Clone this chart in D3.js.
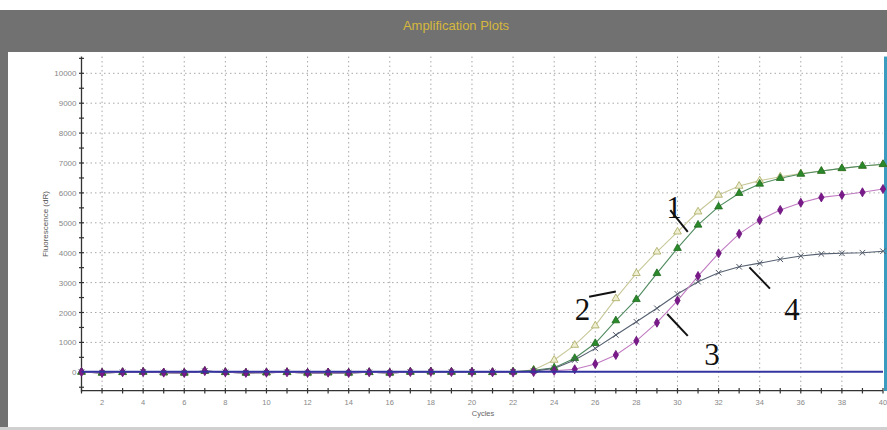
<!DOCTYPE html>
<html><head><meta charset="utf-8">
<script src="https://cdn.jsdelivr.net/npm/d3@7"></script>
<style>html,body{margin:0;padding:0;background:#fff;}svg{display:block;}</style>
</head><body>
<svg id="c" width="887" height="430"></svg>
<script>
const cycles = d3.range(1, 41);
const base = [10,-20,0,10,-10,-20,40,0,-20,-10,0,-20,-10,-20,0,-20,10,20,10,10,0];
const series1 = base.concat([20,80,410,910,1560,2470,3310,4030,4700,5370,5930,6230,6410,6540,6650,6730,6820,6900,6950]);
const series2 = base.concat([20,70,150,470,970,1730,2440,3310,4150,4930,5540,5990,6300,6490,6630,6730,6820,6900,6960]);
const series3 = base.concat([0,10,50,100,280,580,1050,1660,2400,3220,3980,4630,5090,5430,5670,5850,5930,6020,6130]);
const series4 = base.concat([10,40,130,410,800,1250,1690,2140,2620,3030,3330,3530,3650,3780,3890,3960,3980,4000,4050]);
const yTicks = [0,1000,2000,3000,4000,5000,6000,7000,8000,9000,10000];
const xTicks = d3.range(2, 41, 2);
const labels = [
  {t:"1", c:29.45, v:5170, from:[29.65,5420], to:[30.5,4700]},
  {t:"2", c:25.0, v:1740, from:[25.7,2530], to:[27.0,2700]},
  {t:"3", c:31.3, v:240, from:[30.5,1220], to:[29.5,1950]},
  {t:"4", c:35.2, v:1740, from:[34.5,2800], to:[33.5,3510]}
];

const svg = d3.select("#c");
const x = d3.scaleLinear().domain([1,40]).range([81.5,883]);
const y = d3.scaleLinear().domain([0,10000]).range([372.3,73.3]);

// frame
svg.append("rect").attr("x",0).attr("y",10).attr("width",887).attr("height",420).attr("fill","#717171");
svg.append("rect").attr("x",8).attr("y",52).attr("width",879).attr("height",375).attr("fill","#fff");
svg.append("rect").attr("x",0).attr("y",427).attr("width",887).attr("height",3).attr("fill","#d0d0d0");
svg.append("text").attr("x",456).attr("y",30).attr("text-anchor","middle")
  .attr("font-family","Liberation Sans, Arial, sans-serif").attr("font-size",13)
  .attr("fill","#d6b83c").text("Amplification Plots");

const yTop = y(10560), yBot = y(-660);
// grid
const g = svg.append("g");
g.selectAll(".hg").data(yTicks.filter(d=>d>0)).enter().append("line")
  .attr("x1",x(1)).attr("x2",x(40)).attr("y1",d=>y(d)).attr("y2",d=>y(d))
  .attr("stroke","#a8a8a8").attr("stroke-width",1).attr("stroke-dasharray","1.5,3");
g.selectAll(".vg").data(xTicks.filter(d=>d<40)).enter().append("line")
  .attr("x1",d=>x(d)).attr("x2",d=>x(d)).attr("y1",yTop).attr("y2",yBot-1)
  .attr("stroke","#a8a8a8").attr("stroke-width",1).attr("stroke-dasharray","1.5,3");

// axes
const ax = svg.append("g").attr("stroke","#333").attr("stroke-width",1.3);
ax.append("line").attr("x1",x(1)).attr("x2",x(1)).attr("y1",yTop).attr("y2",yBot);
ax.append("line").attr("x1",x(1)).attr("x2",x(40)).attr("y1",390.7).attr("y2",390.7);
const yMinor = d3.range(-500, 10501, 500);
ax.selectAll(".yt").data(yMinor).enter().append("line")
  .attr("x1",x(1)-2.5).attr("x2",x(1)+2.5).attr("y1",d=>y(d)).attr("y2",d=>y(d)).attr("stroke-width",1.2);
ax.selectAll(".xt").data(cycles).enter().append("line")
  .attr("x1",d=>x(d)).attr("x2",d=>x(d)).attr("y1",388).attr("y2",393.5).attr("stroke-width",1.2);

svg.append("g").selectAll("text").data(yTicks).enter().append("text")
  .attr("x",x(1)-5).attr("y",d=>y(d)+3).attr("text-anchor","end")
  .attr("font-family","Liberation Sans, Arial, sans-serif").attr("font-size",8)
  .attr("fill","#888").text(d=>d);
svg.append("g").selectAll("text").data(xTicks).enter().append("text")
  .attr("x",d=>x(d)).attr("y",405).attr("text-anchor","middle")
  .attr("font-family","Liberation Sans, Arial, sans-serif").attr("font-size",7.5)
  .attr("fill","#888").text(d=>d);
svg.append("text").attr("x",483).attr("y",416).attr("text-anchor","middle")
  .attr("font-family","Liberation Sans, Arial, sans-serif").attr("font-size",7.5)
  .attr("fill","#666").text("Cycles");
svg.append("text").attr("transform","translate(48,224) rotate(-90)").attr("text-anchor","middle")
  .attr("font-family","Liberation Sans, Arial, sans-serif").attr("font-size",8)
  .attr("fill","#555").text("Fluorescence (dR)");

// right cyan line
svg.append("rect").attr("x",884).attr("y",yTop).attr("width",3).attr("height",yBot-yTop-1).attr("fill","#3c9cc0");

// series
const line = d3.line().x((d,i)=>x(cycles[i])).y(d=>y(d));
const defs = [
  {data:series1, line:"#c8c89a", kind:"tri", fill:"#eeeed0", stroke:"#a8a860"},
  {data:series2, line:"#4f8a5f", kind:"tri", fill:"#2a8a2a", stroke:"#1f6a1f"},
  {data:series4, line:"#556070", kind:"x", fill:"none", stroke:"#505868"},
  {data:series3, line:"#c07ac0", kind:"dia", fill:"#7a1a8a", stroke:"#6a107a"}
];
const sym = {
  tri: d3.symbol().type(d3.symbolTriangle).size(26),
  dia: d3.symbol().type(d3.symbolDiamond).size(24),
  x: d3.symbol().type(d3.symbolTimes).size(22)
};
defs.forEach(s=>{
  svg.append("path").datum(s.data).attr("d",line).attr("fill","none")
    .attr("stroke",s.line).attr("stroke-width",1.1);
});
defs.forEach(s=>{
  svg.append("g").selectAll("path").data(s.data).enter().append("path")
    .attr("transform",(d,i)=>`translate(${x(cycles[i])},${y(d)})`)
    .attr("d",sym[s.kind]())
    .attr("fill",s.kind==="x"?"none":s.fill)
    .attr("stroke",s.stroke).attr("stroke-width",s.kind==="x"?1:0.8);
});
// threshold line
svg.append("line").attr("x1",x(1)).attr("x2",x(40)).attr("y1",y(20)).attr("y2",y(20))
  .attr("stroke","#3434a0").attr("stroke-width",2);

// annotations
const an = svg.append("g");
labels.forEach(l=>{
  an.append("text").attr("x",x(l.c)).attr("y",y(l.v)).attr("font-family","Liberation Serif, Times New Roman, serif")
    .attr("font-size",31).attr("fill","#111").text(l.t);
  an.append("line").attr("x1",x(l.from[0])).attr("y1",y(l.from[1])).attr("x2",x(l.to[0])).attr("y2",y(l.to[1]))
    .attr("stroke","#111").attr("stroke-width",2);
});
</script>
</body></html>
